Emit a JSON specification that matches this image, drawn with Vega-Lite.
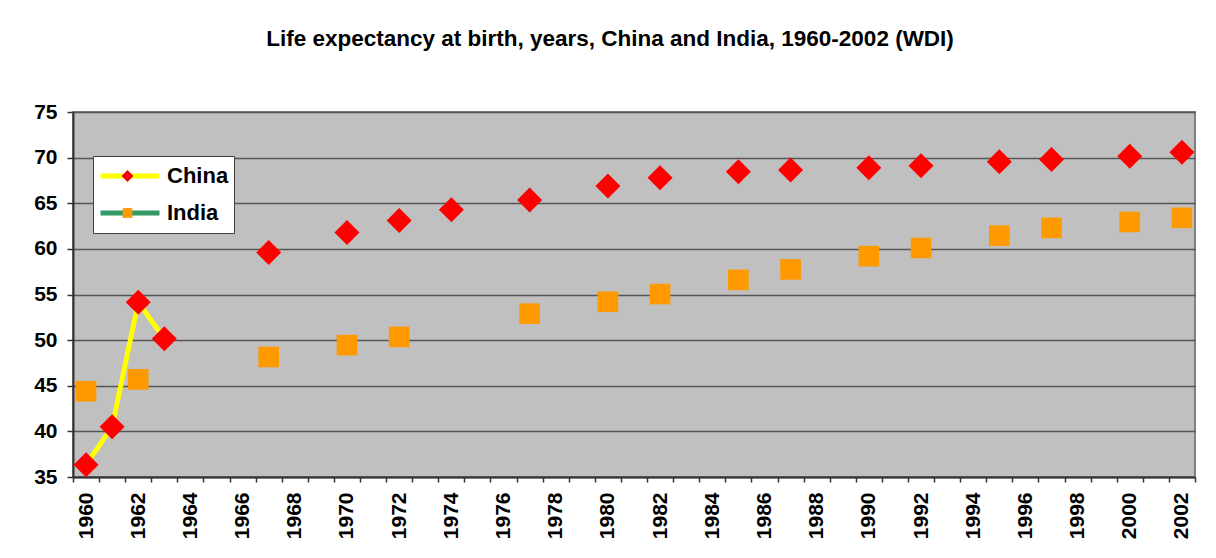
{
  "$schema": "https://vega.github.io/schema/vega-lite/v6.json",
  "width": 1122,
  "height": 365,
  "autosize": {"type": "none"},
  "padding": {"left": 73, "top": 112, "right": 21, "bottom": 81},
  "background": "white",
  "title": {
    "text": "Life expectancy at birth, years, China and India, 1960-2002 (WDI)",
    "font": "Liberation Sans",
    "fontSize": 22.5,
    "fontWeight": "bold",
    "color": "black",
    "anchor": "middle",
    "frame": "group",
    "baseline": "alphabetic",
    "dx": -24,
    "offset": 33
  },
  "data": {
    "values": [
      {"year": 1960, "country": "China", "value": 36.35}, {"year": 1960, "country": "India", "value": 44.4},
      {"year": 1961, "country": "China", "value": 40.5}, {"year": 1961, "country": "India", "value": null},
      {"year": 1962, "country": "China", "value": 54.15}, {"year": 1962, "country": "India", "value": 45.7},
      {"year": 1963, "country": "China", "value": 50.15}, {"year": 1963, "country": "India", "value": null},
      {"year": 1964, "country": "China", "value": null}, {"year": 1964, "country": "India", "value": null},
      {"year": 1965, "country": "China", "value": null}, {"year": 1965, "country": "India", "value": null},
      {"year": 1966, "country": "China", "value": null}, {"year": 1966, "country": "India", "value": null},
      {"year": 1967, "country": "China", "value": 59.6}, {"year": 1967, "country": "India", "value": 48.15},
      {"year": 1968, "country": "China", "value": null}, {"year": 1968, "country": "India", "value": null},
      {"year": 1969, "country": "China", "value": null}, {"year": 1969, "country": "India", "value": null},
      {"year": 1970, "country": "China", "value": 61.8}, {"year": 1970, "country": "India", "value": 49.45},
      {"year": 1971, "country": "China", "value": null}, {"year": 1971, "country": "India", "value": null},
      {"year": 1972, "country": "China", "value": 63.1}, {"year": 1972, "country": "India", "value": 50.35},
      {"year": 1973, "country": "China", "value": null}, {"year": 1973, "country": "India", "value": null},
      {"year": 1974, "country": "China", "value": 64.3}, {"year": 1974, "country": "India", "value": null},
      {"year": 1975, "country": "China", "value": null}, {"year": 1975, "country": "India", "value": null},
      {"year": 1976, "country": "China", "value": null}, {"year": 1976, "country": "India", "value": null},
      {"year": 1977, "country": "China", "value": 65.35}, {"year": 1977, "country": "India", "value": 52.9},
      {"year": 1978, "country": "China", "value": null}, {"year": 1978, "country": "India", "value": null},
      {"year": 1979, "country": "China", "value": null}, {"year": 1979, "country": "India", "value": null},
      {"year": 1980, "country": "China", "value": 66.9}, {"year": 1980, "country": "India", "value": 54.2},
      {"year": 1981, "country": "China", "value": null}, {"year": 1981, "country": "India", "value": null},
      {"year": 1982, "country": "China", "value": 67.8}, {"year": 1982, "country": "India", "value": 55.05},
      {"year": 1983, "country": "China", "value": null}, {"year": 1983, "country": "India", "value": null},
      {"year": 1984, "country": "China", "value": null}, {"year": 1984, "country": "India", "value": null},
      {"year": 1985, "country": "China", "value": 68.45}, {"year": 1985, "country": "India", "value": 56.6},
      {"year": 1986, "country": "China", "value": null}, {"year": 1986, "country": "India", "value": null},
      {"year": 1987, "country": "China", "value": 68.65}, {"year": 1987, "country": "India", "value": 57.75},
      {"year": 1988, "country": "China", "value": null}, {"year": 1988, "country": "India", "value": null},
      {"year": 1989, "country": "China", "value": null}, {"year": 1989, "country": "India", "value": null},
      {"year": 1990, "country": "China", "value": 68.9}, {"year": 1990, "country": "India", "value": 59.2},
      {"year": 1991, "country": "China", "value": null}, {"year": 1991, "country": "India", "value": null},
      {"year": 1992, "country": "China", "value": 69.1}, {"year": 1992, "country": "India", "value": 60.1},
      {"year": 1993, "country": "China", "value": null}, {"year": 1993, "country": "India", "value": null},
      {"year": 1994, "country": "China", "value": null}, {"year": 1994, "country": "India", "value": null},
      {"year": 1995, "country": "China", "value": 69.55}, {"year": 1995, "country": "India", "value": 61.45},
      {"year": 1996, "country": "China", "value": null}, {"year": 1996, "country": "India", "value": null},
      {"year": 1997, "country": "China", "value": 69.8}, {"year": 1997, "country": "India", "value": 62.3},
      {"year": 1998, "country": "China", "value": null}, {"year": 1998, "country": "India", "value": null},
      {"year": 1999, "country": "China", "value": null}, {"year": 1999, "country": "India", "value": null},
      {"year": 2000, "country": "China", "value": 70.15}, {"year": 2000, "country": "India", "value": 62.95},
      {"year": 2001, "country": "China", "value": null}, {"year": 2001, "country": "India", "value": null},
      {"year": 2002, "country": "China", "value": 70.6}, {"year": 2002, "country": "India", "value": 63.4}
    ]
  },
  "encoding": {
    "x": {
      "field": "year",
      "type": "ordinal",
      "scale": {"type": "band", "paddingInner": 0, "paddingOuter": 0},
      "axis": {
        "title": null,
        "labelAngle": 270,
        "labelExpr": "datum.value % 2 == 0 ? datum.label : ''",
        "labelOverlap": false,
        "labelFont": "Liberation Sans",
        "labelFontSize": 21,
        "labelFontWeight": "bold",
        "labelColor": "black",
        "labelPadding": 10,
        "tickBand": "extent",
        "tickSize": 5,
        "tickColor": "#333333",
        "tickWidth": 1.5,
        "domainColor": "#333333",
        "domainWidth": 2,
        "grid": false
      }
    },
    "y": {
      "field": "value",
      "type": "quantitative",
      "scale": {"domain": [35, 75], "nice": false, "zero": false},
      "axis": {
        "title": null,
        "values": [35, 40, 45, 50, 55, 60, 65, 70, 75],
        "labelFont": "Liberation Sans",
        "labelFontSize": 21,
        "labelFontWeight": "bold",
        "labelColor": "black",
        "labelPadding": 10,
        "tickSize": 6,
        "tickColor": "#333333",
        "tickWidth": 1.5,
        "domainColor": "#333333",
        "domainWidth": 2,
        "grid": true,
        "gridColor": "#555555",
        "gridWidth": 1.6
      }
    }
  },
  "layer": [
    {
      "mark": {"type": "line", "strokeWidth": 5, "invalid": "break-paths-show-domains"},
      "encoding": {
        "color": {
          "field": "country",
          "type": "nominal",
          "scale": {"domain": ["China", "India"], "range": ["#FFFF00", "#339966"]},
          "legend": {
            "orient": "none",
            "legendX": 20,
            "legendY": 44,
            "title": null,
            "symbolType": "stroke",
            "symbolSize": 3481,
            "symbolStrokeWidth": 5,
            "clipHeight": 30,
            "rowPadding": 7,
            "padding": 5,
            "fillColor": "white",
            "strokeColor": "#404040",
            "labelFont": "Liberation Sans",
            "labelFontSize": 22,
            "labelFontWeight": "bold",
            "labelColor": "black",
            "labelOffset": 5,
            "labelLimit": 0
          }
        }
      }
    },
    {
      "mark": {"type": "point", "filled": true, "size": 15625, "opacity": 1, "strokeWidth": 0, "invalid": "filter"},
      "encoding": {
        "fill": {
          "field": "country",
          "type": "nominal",
          "scale": {"range": ["#FF0000", "#FF9900"]},
          "legend": {
            "orient": "none",
            "legendX": 20,
            "legendY": 44,
            "title": null,
            "symbolSize": 3481,
            "symbolStrokeWidth": 0,
            "symbolOpacity": 1,
            "clipHeight": 30,
            "rowPadding": 7,
            "padding": 5,
            "labelExpr": "''",
            "labelFontSize": 22,
            "labelOffset": 5
          }
        },
        "shape": {
          "field": "country",
          "type": "nominal",
          "scale": {"range": ["M0,-0.2L0.2,0L0,0.2L-0.2,0Z", "M-0.165,-0.165H0.165V0.165H-0.165Z"]},
          "legend": {
            "orient": "none",
            "legendX": 20,
            "legendY": 44,
            "title": null,
            "symbolSize": 3481,
            "symbolStrokeWidth": 0,
            "symbolOpacity": 1,
            "clipHeight": 30,
            "rowPadding": 7,
            "padding": 5,
            "labelExpr": "''",
            "labelFontSize": 22,
            "labelOffset": 5
          }
        }
      }
    }
  ],
  "config": {
    "view": {"fill": "#C0C0C0", "stroke": "#808080", "strokeWidth": 2}
  }
}
